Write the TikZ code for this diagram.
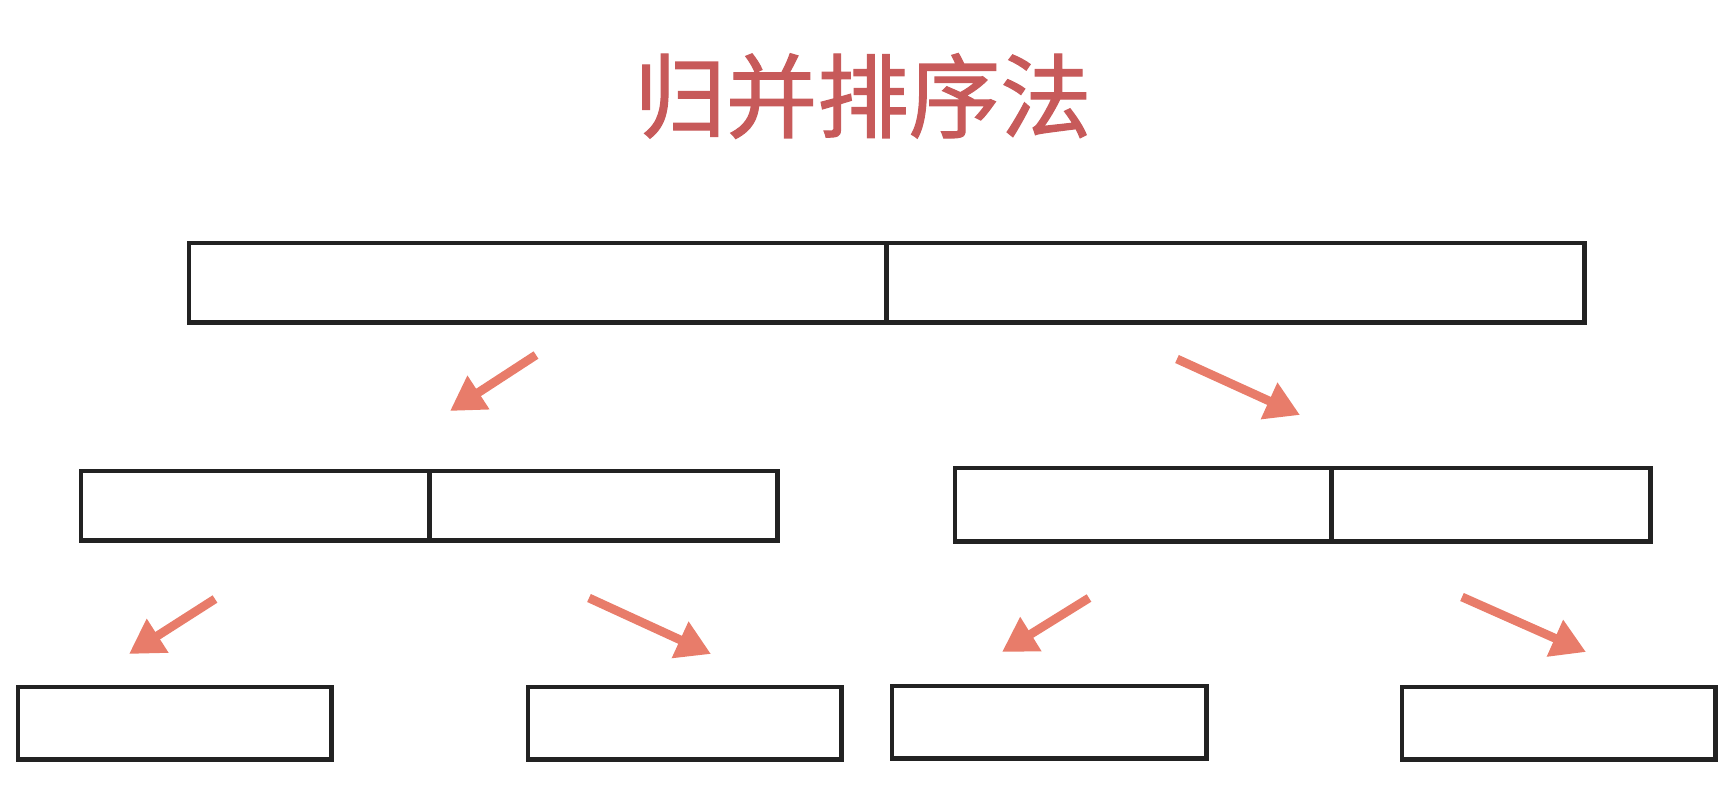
\documentclass[tikz,border=0pt]{standalone}
\usepackage{fontspec}
\newfontfamily\cjk[FakeBold=1.3]{Noto Sans CJK SC}
\usetikzlibrary{arrows.meta, positioning}

\definecolor{titlered}{RGB}{199,90,90}
\definecolor{salmon}{RGB}{232,124,106}
\definecolor{boxline}{RGB}{34,34,34}

\begin{document}
\begin{tikzpicture}[
  x=0.01cm, y=-0.01cm,
  half/.style={rectangle, draw=boxline, line width=1.4pt, outer sep=0pt, inner sep=0pt, anchor=north west},
  arrow/.style={-{Triangle[length=0.34cm, width=0.38cm]}, line width=2.5pt, color=salmon},
]
\useasboundingbox (0,0) rectangle (1720,794);

\node[text=titlered, font=\cjk\fontsize{26}{30}\selectfont] (title) at (863,96) {归并排序法};

% top array
\node[half, minimum width=6.97cm, minimum height=0.79cm] (top-l) at (189,243) {};
\node[half, minimum width=6.98cm, minimum height=0.79cm, right=0pt of top-l] (top-r) {};

% middle arrays
\node[half, minimum width=3.48cm, minimum height=0.69cm] (midl-l) at (81,471) {};
\node[half, minimum width=3.48cm, minimum height=0.69cm, right=0pt of midl-l] (midl-r) {};
\node[half, minimum width=3.76cm, minimum height=0.73cm] (midr-l) at (955,468) {};
\node[half, minimum width=3.19cm, minimum height=0.73cm, right=0pt of midr-l] (midr-r) {};

% bottom arrays
\node[half, minimum width=3.13cm, minimum height=0.72cm] (bot1) at (18,687) {};
\node[half, minimum width=3.13cm, minimum height=0.72cm] (bot2) at (528,687) {};
\node[half, minimum width=3.14cm, minimum height=0.72cm] (bot3) at (892,686) {};
\node[half, minimum width=3.13cm, minimum height=0.72cm] (bot4) at (1402,687) {};

% arrow ends
\coordinate (a1s) at (536,355);  \coordinate (a1e) at (450,411);
\coordinate (a2s) at (1177,359); \coordinate (a2e) at (1300,415);
\coordinate (a3s) at (215,599);  \coordinate (a3e) at (129,654);
\coordinate (a4s) at (589,598);  \coordinate (a4e) at (711,654);
\coordinate (a5s) at (1089,598); \coordinate (a5e) at (1002,652);
\coordinate (a6s) at (1462,597); \coordinate (a6e) at (1586,652);

% Arrows
\draw[arrow] (a1s) -- (a1e);
\draw[arrow] (a2s) -- (a2e);
\draw[arrow] (a3s) -- (a3e);
\draw[arrow] (a4s) -- (a4e);
\draw[arrow] (a5s) -- (a5e);
\draw[arrow] (a6s) -- (a6e);

\end{tikzpicture}
\end{document}
